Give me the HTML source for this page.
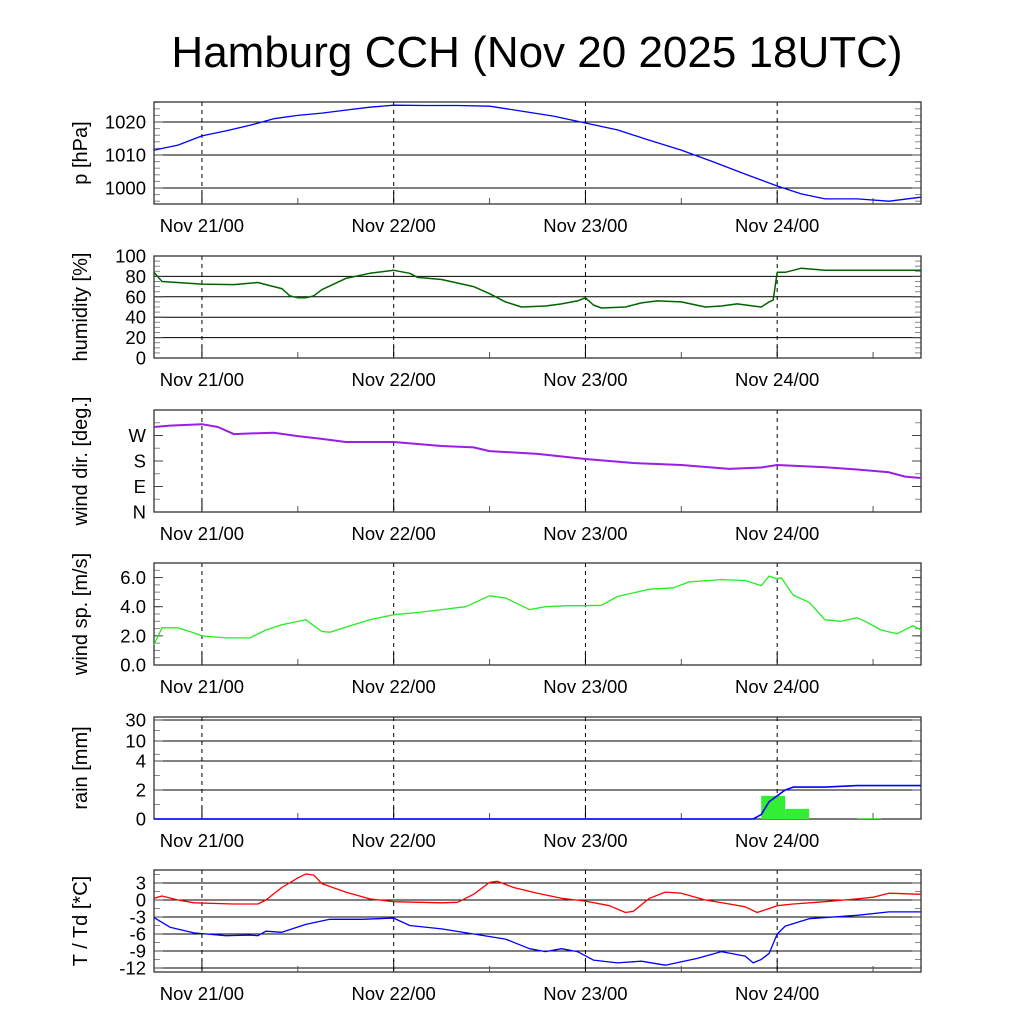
<!DOCTYPE html>
<html><head><meta charset="utf-8"><style>
html,body{margin:0;padding:0;background:#fff;}
svg{display:block;font-family:"Liberation Sans",sans-serif;}
</style></head><body>
<svg id="chart" width="1024" height="1024" viewBox="0 0 1024 1024">
<text x="537" y="67" font-size="44" text-anchor="middle">Hamburg CCH (Nov 20 2025 18UTC)</text>
</svg>
<script>
// hours since Nov 20 18UTC
const dayLabels = ["Nov 21/00","Nov 22/00","Nov 23/00","Nov 24/00"];
const dayHours = [6,30,54,78];
const presH = [0,3,6,9,12,15,18,21,24,27,30,34,38,42,46,50,54,58,62,66,70,74,78,81,84,88,92,96];
const presV = [1011.5,1013,1015.8,1017.3,1019,1021,1022,1022.7,1023.6,1024.5,1025.1,1025,1025,1024.8,1023.3,1021.8,1019.7,1017.6,1014.5,1011.5,1007.9,1004.2,1000.6,998.2,996.7,996.7,996,997.2];
const humH = [0,1,6,10,13,14,16,17,18,19,20,21,24,27,30,32,33,36,40,42,44,46,49,51,53,54,55,56,59,61,63,66,69,71,73,75,76,77,77.5,78,79,80,81,84,90,96];
const humV = [84,75,72.5,72,74,72,68,61,59,59,61,67,78,83,86,83,79,77,70,63,55,50,51,53,56,59,52,49,50,54,56,55,50,51,53,51,50,55,57,84,84,86,88,86,86,86];
const dirH = [0,2,6,8,10,13,15,18,21,24,30,36,40,42,48,54,60,66,72,76,78,84,88,90,92,94,96];
const dirV = [300,305,310,300,275,278,280,268,258,247,247,233,228,215,205,187,173,166,152,157,166,158,150,145,140,125,120];
const spdH = [0,1,3,5,6,9,12,14,16,19,20,21,22,24,27,30,33,36,39,42,44,47,49,52,54,56,58,62,65,67,71,74,76,77,78,78.5,80,82,84,86,88,89,91,93,95,96];
const spdV = [1.4,2.55,2.55,2.2,2.0,1.86,1.86,2.4,2.76,3.1,2.7,2.3,2.25,2.6,3.1,3.45,3.6,3.8,4.0,4.75,4.6,3.8,4.0,4.07,4.07,4.1,4.7,5.2,5.3,5.7,5.86,5.8,5.45,6.1,5.9,6.0,4.8,4.3,3.1,3.0,3.24,3.0,2.4,2.14,2.7,2.4];
const rainBarStart = [76,79,88];
const rainBarVal = [1.6,0.7,0.05];
const rainSumH = [0,75,76,77,78,79,80,84,88,96];
const rainSumV = [0,0,0.3,1.2,1.6,2.0,2.2,2.2,2.3,2.3];
const tH = [0,1,3,5,10,13,14,16,18,19,20,21,24,27,30,36,38,40,42,43,45,48,51,54,57,59,60,62,64,66,69,72,74,75.5,77,78,80,84,88,90,92,96];
const tV = [0.3,0.7,0,-0.5,-0.7,-0.7,0,2.2,3.9,4.6,4.4,2.9,1.4,0.2,-0.3,-0.5,-0.4,1.0,3.1,3.3,2.2,1.2,0.3,-0.2,-1.0,-2.2,-2.0,0.3,1.4,1.2,0,-0.7,-1.2,-2.2,-1.5,-1.0,-0.7,-0.3,0.2,0.5,1.2,1.0];
const tdH = [0,2,5,9,12,13,14,16,19,22,26,30,32,36,40,44,47,49,51,53,55,58,61,64,68,71,74,75,76,77,78,79,82,88,92,96];
const tdV = [-3.1,-4.8,-5.8,-6.3,-6.2,-6.3,-5.5,-5.7,-4.3,-3.4,-3.4,-3.2,-4.5,-5.1,-6.0,-6.9,-8.6,-9.1,-8.6,-9.1,-10.6,-11.1,-10.8,-11.5,-10.3,-9.1,-9.9,-11.1,-10.5,-9.4,-6.0,-4.6,-3.3,-2.7,-2.1,-2.1];
const presTicks = [1000,1010,1020];
const humTicks = [0,20,40,60,80,100];
const dirTickLabels = ["N","E","S","W"];
const dirTickVals = [0,90,180,270];
const spdTicks = [0,2,4,6];
const spdTickLabels = ["0.0","2.0","4.0","6.0"];
const rainTicks = [0,2,4,10,30];
const tTicks = [-12,-9,-6,-3,0,3];

const NS="http://www.w3.org/2000/svg";
const svg=document.getElementById('chart');
const X0=154,X1=921;
function xs(h){return X0+(X1-X0)*h/96;}
function mk(tag,attrs,parent){const e=document.createElementNS(NS,tag);for(const k in attrs)e.setAttribute(k,attrs[k]);(parent||svg).appendChild(e);return e;}
function linY(v0,v1,y0,y1){return v=>y0+(v-v0)*(y1-y0)/(v1-v0);}
function rainY(v){const vs=[0,2,4,10,30,40],ys=[819,790,761,741,720,717];for(let i=0;i<vs.length-1;i++){if(v<=vs[i+1])return ys[i]+(v-vs[i])*(ys[i+1]-ys[i])/(vs[i+1]-vs[i]);}return 717;}

function panel(name,top,bot,yf,ticks,labels,grid,title,minor){
  const g=mk('g',{});
  
  
  if(grid){ticks.forEach(t=>{const y=yf(t);if(y>top+1&&y<bot-1){const l=mk('line',{x1:X0,x2:X1,y1:y,y2:y,stroke:'#000','stroke-width':1},g);}});}
  minor.forEach(v=>{const y=yf(v);if(y>top&&y<bot){mk('line',{x1:X0,x2:X0+6,y1:y,y2:y,stroke:'#888'},g);mk('line',{x1:X1-6,x2:X1,y1:y,y2:y,stroke:'#888'},g);}});
  ticks.forEach(t=>{const y=yf(t);mk('line',{x1:X0,x2:X0+9,y1:y,y2:y,stroke:'#444'},g);mk('line',{x1:X1-9,x2:X1,y1:y,y2:y,stroke:'#444'},g);});
  dayHours.forEach(h=>{const x=xs(h);const l=mk('line',{x1:x,x2:x,y1:top,y2:bot,stroke:'#000','stroke-dasharray':'4,4'},g);mk('line',{x1:x,x2:x,y1:bot-12,y2:bot,stroke:'#000'},g);});
  [18,42,66,90].forEach(h=>{const x=xs(h);mk('line',{x1:x,x2:x,y1:bot-6,y2:bot,stroke:'#555'},g);});
  const fr=mk('rect',{x:X0,y:top,width:X1-X0,height:bot-top,fill:'none',stroke:'#333','stroke-width':1.3},g);
  
  ticks.forEach((t,i)=>{const tx=mk('text',{x:146,y:yf(t)+6.5,'font-size':18.5,'text-anchor':'end'},g);tx.textContent=labels[i];});
  dayHours.forEach((h,i)=>{const tx=mk('text',{x:xs(h),y:bot+28,'font-size':18.5,'text-anchor':'middle'},g);tx.textContent=dayLabels[i];});
  const cy=(top+bot)/2;
  const tt=mk('text',{x:0,y:0,'font-size':20,'text-anchor':'middle',transform:`translate(87,${cy}) rotate(-90)`},g);
  tt.textContent=title;
  return g;
}
function line(g,H,V,yf,color,w,name){
  const d=H.map((h,i)=>(i?'L':'M')+xs(h).toFixed(1)+','+yf(V[i]).toFixed(1)).join('');
  const p=mk('path',{d:d,fill:'none',stroke:color,'stroke-width':w,'stroke-linejoin':'round'},g);
  
}
function range(a,b,s){const r=[];for(let v=a;v<=b+1e-9;v+=s)r.push(v);return r;}

let yf,g;
yf=linY(1020,1000,122,188);
g=panel('pressure',102,204,yf,presTicks,presTicks.map(String),true,'p [hPa]',range(996,1026,2));
line(g,presH,presV,yf,'#0000ff',1.3,'pressure-line');

yf=linY(100,0,256,358);
g=panel('humidity',256,358,yf,humTicks,humTicks.map(String),true,'humidity [%]',range(0,100,5));
line(g,humH,humV,yf,'#006400',1.5,'humidity-line');

yf=linY(360,0,410,512);
g=panel('wind-dir',410,512,yf,dirTickVals,dirTickLabels,false,'wind dir. [deg.]',range(0,360,45));
line(g,dirH,dirV,yf,'#9a1ee6',2,'wind-direction-line');

yf=linY(7,0,563,665);
g=panel('wind-speed',563,665,yf,spdTicks,spdTickLabels,false,'wind sp. [m/s]',range(0,7,0.5));
line(g,spdH,spdV,yf,'#22ee22',1.3,'wind-speed-line');

g=panel('rain',717,819,rainY,rainTicks,rainTicks.map(String),true,'rain [mm]',[1,3,6,20]);
rainBarStart.forEach((h,i)=>{const y=rainY(rainBarVal[i]);const r=mk('rect',{x:xs(h),y:y,width:xs(h+3)-xs(h),height:819-y,fill:'#33ee33'},g);});
line(g,rainSumH,rainSumV,rainY,'#0000ff',1.6,'rain-cumulative-line');

yf=linY(3,0,883,900);
g=panel('temperature',870,972,yf,tTicks,tTicks.map(String),true,'T / Td [*C]',range(-12,5,1.5));
line(g,tH,tV,yf,'#ff0000',1.3,'temperature-line');
line(g,tdH,tdV,yf,'#0000ff',1.3,'dewpoint-line');
</script>
</body></html>
